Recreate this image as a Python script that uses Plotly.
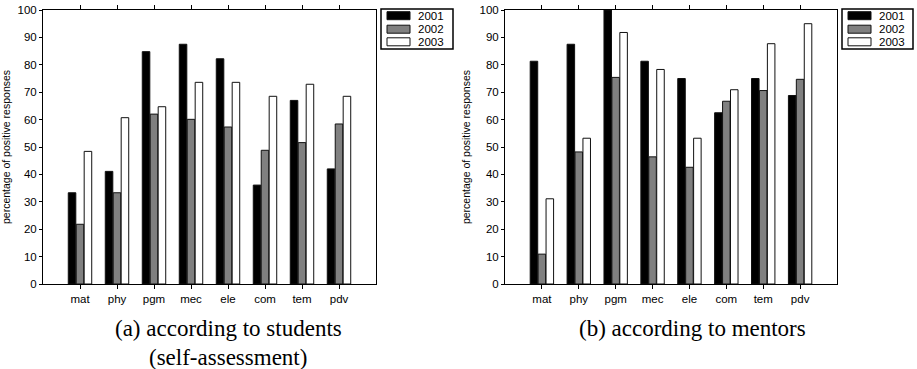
import plotly.graph_objects as go

categories = ["mat", "phy", "pgm", "mec", "ele", "com", "tem", "pdv"]
years = ["2001", "2002", "2003"]

students_2001 = [33.3, 41.1, 84.8, 87.5, 82.2, 36.1, 67.0, 42.0]
students_2002 = [21.8, 33.3, 62.0, 60.1, 57.3, 48.8, 51.6, 58.4]
students_2003 = [48.4, 60.7, 64.7, 73.6, 73.6, 68.5, 72.9, 68.5]

mentors_2001 = [81.3, 87.5, 100.0, 81.3, 75.0, 62.5, 75.0, 68.8]
mentors_2002 = [10.9, 48.2, 75.4, 46.4, 42.6, 66.7, 70.6, 74.7]
mentors_2003 = [31.1, 53.2, 91.8, 78.3, 53.2, 70.9, 87.7, 95.0]

fills = ["#000000", "#808080", "#ffffff"]
y_ticks = list(range(0, 101, 10))
y_title = "percentage of positive responses"
captions = ["(a) according to students", "(self-assessment)", "(b) according to mentors"]

W, H = 917, 369
SANS = "Liberation Sans, Arial, sans-serif"
SERIF = "Liberation Serif, Times New Roman, serif"

fig = go.Figure()

panels = [
    (["x", "y"], [students_2001, students_2002, students_2003]),
    (["x2", "y2"], [mentors_2001, mentors_2002, mentors_2003]),
]
for (xa, ya), series in panels:
    for yr, vals, col in zip(years, series, fills):
        fig.add_trace(go.Bar(
            x=categories, y=vals, name=yr, xaxis=xa, yaxis=ya,
            marker=dict(color=col, line=dict(color="#111111", width=1)),
            showlegend=False,
        ))

# layout geometry (pixels -> paper)
top_px, bot_px = 10, 284
plot_h = bot_px - top_px
doms = [(43 / W, 376 / W), (505 / W, 837 / W)]


def px_x(v):
    return v / W


def px_y(v):
    return (bot_px - v) / plot_h


xaxis_common = dict(
    type="category", range=[-1, 8], showline=True, linecolor="#000", linewidth=1,
    mirror="ticks", ticks="outside", ticklen=4, tickcolor="#000", tickwidth=1,
    showgrid=False, zeroline=False,
    tickfont=dict(family=SANS, size=11.5, color="#000"),
)
yaxis_common = dict(
    range=[0, 100], tickvals=y_ticks, showline=True, linecolor="#000", linewidth=1,
    mirror=True, ticks="outside", ticklen=3, tickcolor="#000", tickwidth=1,
    showgrid=False, zeroline=False,
    tickfont=dict(family=SANS, size=11.5, color="#000"),
    title=dict(text=y_title, font=dict(family=SANS, size=10.5, color="#000"), standoff=6),
)
right_ticks = dict(
    range=[0, 100], tickvals=y_ticks, side="right", ticks="inside", ticklen=3,
    tickcolor="#000", showticklabels=False, showline=False, showgrid=False,
    zeroline=False,
)

fig.update_layout(
    width=W, height=H,
    margin=dict(l=0, r=0, t=top_px, b=H - bot_px, autoexpand=False),
    paper_bgcolor="#fff", plot_bgcolor="#fff",
    barmode="group", bargap=0.355, bargroupgap=0.05,
    xaxis=dict(domain=list(doms[0]), anchor="y", **xaxis_common),
    xaxis2=dict(domain=list(doms[1]), anchor="y2", **xaxis_common),
    yaxis=dict(anchor="x", **yaxis_common),
    yaxis2=dict(anchor="x2", **yaxis_common),
    yaxis3=dict(anchor="x", overlaying="y", **right_ticks),
    yaxis4=dict(anchor="x2", overlaying="y2", **right_ticks),
    showlegend=False,
)

# legends (one per panel), boxed, with wide swatches
legend_boxes = [(381, 453), (842, 913)]
row_centers = [15.7, 29.2, 41.8]
for (lx0, lx1) in legend_boxes:
    fig.add_shape(type="rect", xref="paper", yref="paper",
                  x0=px_x(lx0), x1=px_x(lx1), y0=px_y(9), y1=px_y(49),
                  line=dict(color="#000", width=1.5), fillcolor="#fff", layer="above")
    for yr, col, cy in zip(years, fills, row_centers):
        fig.add_shape(type="rect", xref="paper", yref="paper",
                      x0=px_x(lx0 + 6), x1=px_x(lx0 + 29),
                      y0=px_y(cy - 4), y1=px_y(cy + 4),
                      line=dict(color="#111", width=1), fillcolor=col, layer="above")
        fig.add_annotation(text=yr, xref="paper", yref="paper",
                           x=px_x(lx0 + 35), y=px_y(cy), showarrow=False,
                           xanchor="left", yanchor="middle",
                           font=dict(family=SANS, size=11.5, color="#000"))

cap_font = dict(family=SERIF, size=23, color="#000")
cap_pos = [(228, 328), (228, 357), (692, 328)]
for txt, (cx, cy) in zip(captions, cap_pos):
    fig.add_annotation(text=txt, xref="paper", yref="paper", x=px_x(cx),
                       y=px_y(cy), showarrow=False, font=cap_font,
                       xanchor="center", yanchor="middle")

fig.write_html(
    "out.html",
    config={"displayModeBar": False},
    post_script="document.body.style.margin='0';document.body.style.padding='0';"
                "document.documentElement.style.overflow='hidden';",
)
